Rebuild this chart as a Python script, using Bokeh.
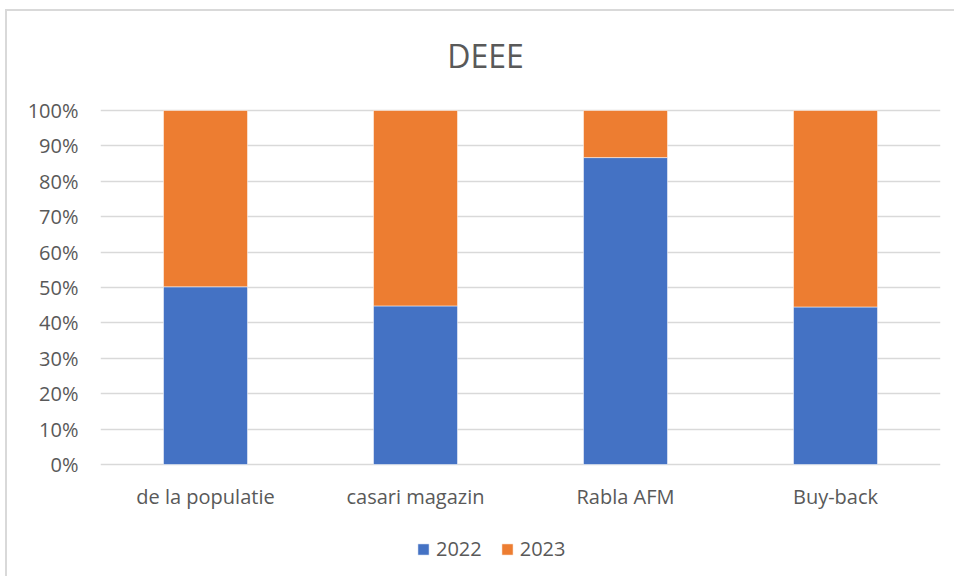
from bokeh.plotting import figure
from bokeh.models import (FactorRange, Range1d, FixedTicker, NumeralTickFormatter,
                          Legend, LegendItem, ColumnDataSource, Label)
from bokeh.core.properties import value
from bokeh.embed import file_html
from bokeh.resources import INLINE

categories = ["de la populatie", "casari magazin", "Rabla AFM", "Buy-back"]
series_names = ["2022", "2023"]
share_2022 = [0.502, 0.448, 0.867, 0.445]
share_2023 = [1 - v for v in share_2022]
colors = ["#4472C4", "#ED7D31"]
y_ticks = [i / 10 for i in range(11)]
chart_title = "DEEE"

FONT = "Open Sans"
TXT = "#595959"

# layout geometry (pixels): the frame spans the whole canvas height,
# the 0%..100% band occupies PX_PER_UNIT pixels starting TOP_PX below the top
W, H = 949, 567
LEFT_PX = 93
TOP_PX = 99
PX_PER_UNIT = 354.0
BELOW_PX = H - TOP_PX - PX_PER_UNIT
y_start = -BELOW_PX / PX_PER_UNIT
y_end = 1 + TOP_PX / PX_PER_UNIT

source = ColumnDataSource(dict(cat=categories, s2022=share_2022, s2023=share_2023))

p = figure(width=W, height=H, x_range=FactorRange(*categories, range_padding=0),
           y_range=Range1d(y_start, y_end), output_backend="svg", toolbar_location=None,
           min_border_left=LEFT_PX, min_border_right=W - LEFT_PX - 840, min_border_top=0,
           min_border_bottom=0)
p.x_range.factor_padding = 0
p.styles = {"margin-left": "5px", "margin-top": "9px",
            "border-top": "2px solid #d9d9d9", "border-left": "2px solid #d9d9d9"}
p.outline_line_color = None
p.background_fill_color = "white"
p.border_fill_color = "white"

renderers = p.vbar_stack(["s2022", "s2023"], x="cat", width=0.4, source=source,
                         color=colors, line_color="white", line_width=0.5)

# category labels under the 0% line
label_y = -32 / PX_PER_UNIT
p.text(x=categories, y=[label_y] * len(categories), text=categories,
       text_font=value(FONT), text_font_size="20px", text_color=TXT,
       text_align="center", text_baseline="middle")

# chart title
p.add_layout(Label(x=385 / 210, y=1 + 55 / PX_PER_UNIT, text=chart_title,
                   text_font=FONT, text_font_size="32px", text_color=TXT,
                   text_align="center", text_baseline="middle"))

p.xaxis.visible = False
p.xgrid.grid_line_color = None
p.ygrid.grid_line_color = "#d9d9d9"
p.ygrid.grid_line_width = 1.3
p.ygrid.ticker = FixedTicker(ticks=y_ticks)
yax = p.yaxis[0]
yax.ticker = FixedTicker(ticks=y_ticks)
yax.formatter = NumeralTickFormatter(format="0%")
yax.axis_line_color = None
yax.major_tick_line_color = None
yax.minor_tick_line_color = None
yax.major_label_text_font = FONT
yax.major_label_text_font_size = "20px"
yax.major_label_text_color = TXT
yax.major_label_standoff = 16

legend = Legend(items=[LegendItem(label=n, renderers=[r]) for n, r in zip(series_names, renderers)],
                orientation="horizontal", location=(316, 16),
                label_text_font=FONT, label_text_font_size="20px", label_text_color=TXT,
                glyph_width=14, glyph_height=14, spacing=18, padding=0, margin=0,
                border_line_color=None, background_fill_alpha=0, label_standoff=6)
p.add_layout(legend, "center")

open("out.html", "w").write(file_html(p, INLINE))
